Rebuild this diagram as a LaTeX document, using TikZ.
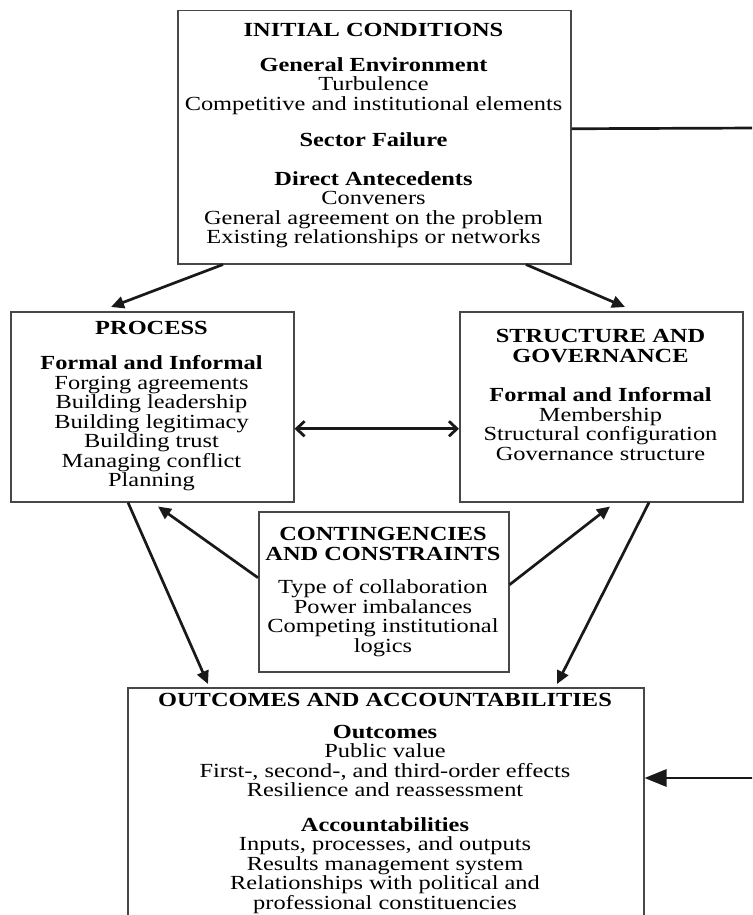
\documentclass[tikz,border=0pt]{standalone}
\usepackage{fontspec}
\setmainfont{Liberation Serif}[FakeStretch=1.22]
\usetikzlibrary{arrows.meta,calc}
\definecolor{boxgray}{gray}{0.28}
\definecolor{arrowblack}{gray}{0.1}
\begin{document}
\begin{tikzpicture}[x=1pt,y=-1pt,
  box/.style={draw=boxgray, line width=1.5pt, anchor=north west, inner sep=0pt, fill=white},
  txt/.style={anchor=north, align=center, inner sep=0pt, font=\fontsize{20}{19.5}\selectfont},
  conn/.style={draw=arrowblack, line width=2.7pt, -{Triangle[length=13pt,width=12pt]}},
  dbl/.style={draw=arrowblack, line width=2.8pt, {Straight Barb[length=8pt,width=15pt]}-{Straight Barb[length=8pt,width=15pt]}},
  plainline/.style={draw=arrowblack, line width=2.7pt},
  bigarrow/.style={draw=arrowblack, line width=2.8pt, -{Triangle[length=22pt,width=17pt]}}
]
\useasboundingbox (0,0) rectangle (752,915);
\clip (0,0) rectangle (752,915);

% boxes
\node[box, minimum width=393pt, minimum height=253pt] (init) at (177,10) {};
\node[box, minimum width=283pt, minimum height=190pt] (proc) at (10,311) {};
\node[box, minimum width=283pt, minimum height=190pt] (struct) at (459,311) {};
\node[box, minimum width=250pt, minimum height=160pt] (cont) at (258,511) {};
\node[box, minimum width=516pt, minimum height=260pt] (out) at (127,687) {};

% texts
\node[txt] (initT) at (373.5,23.5) {\textbf{INITIAL CONDITIONS}\\[15pt]
  \textbf{General Environment}\\
  Turbulence\\
  Competitive and institutional elements\\[17pt]
  \textbf{Sector Failure}\\[19pt]
  \textbf{Direct Antecedents}\\
  Conveners\\
  General agreement on the problem\\
  Existing relationships or networks};

\node[txt] (procT) at (151.5,321) {\textbf{PROCESS}\\[16pt]
  \textbf{Formal and Informal}\\
  Forging agreements\\
  Building leadership\\
  Building legitimacy\\
  Building trust\\
  Managing conflict\\
  Planning};

\node[txt] (structT) at (600.5,329.5) {\textbf{STRUCTURE AND}\\
  \textbf{GOVERNANCE}\\[20pt]
  \textbf{Formal and Informal}\\
  Membership\\
  Structural configuration\\
  Governance structure};

\node[txt] (contT) at (383,527.5) {\textbf{CONTINGENCIES}\\
  \textbf{AND CONSTRAINTS}\\[14pt]
  Type of collaboration\\
  Power imbalances\\
  Competing institutional\\
  logics};

\node[txt] (outT) at (385,693) {\textbf{OUTCOMES AND ACCOUNTABILITIES}\\[12.5pt]
  \textbf{Outcomes}\\
  Public value\\
  First-, second-, and third-order effects\\
  Resilience and reassessment\\[15pt]
  \textbf{Accountabilities}\\
  Inputs, processes, and outputs\\
  Results management system\\
  Relationships with political and\\
  professional constituencies};

% connectors
\draw[conn] ([xshift=46pt]init.south west) -- ([xshift=101pt,yshift=4pt]proc.north west);
\draw[conn] ([xshift=349pt]init.south west) -- ([xshift=166pt,yshift=4pt]struct.north west);
\draw[dbl] ([yshift=-22pt]proc.east) -- ([yshift=-22pt]struct.west);
\draw[conn] ([yshift=14pt]cont.west) -- ([xshift=148pt,yshift=-4pt]proc.south west);
\draw[conn] ([yshift=7pt]cont.east) -- ([xshift=151pt,yshift=-4pt]struct.south west);
\draw[conn] ([xshift=118pt]proc.south west) -- ([xshift=81pt,yshift=3pt]out.north west);
\draw[conn] ([xshift=190pt]struct.south west) -- ([xshift=430pt,yshift=3pt]out.north west);

\coordinate (fbA) at (760,128);
\coordinate (fbB) at (760,778);
\draw[plainline] ([yshift=8.5pt]init.east) -- (fbA);
\draw[bigarrow] (fbB) -- (out.east |- fbB);
\end{tikzpicture}
\end{document}
